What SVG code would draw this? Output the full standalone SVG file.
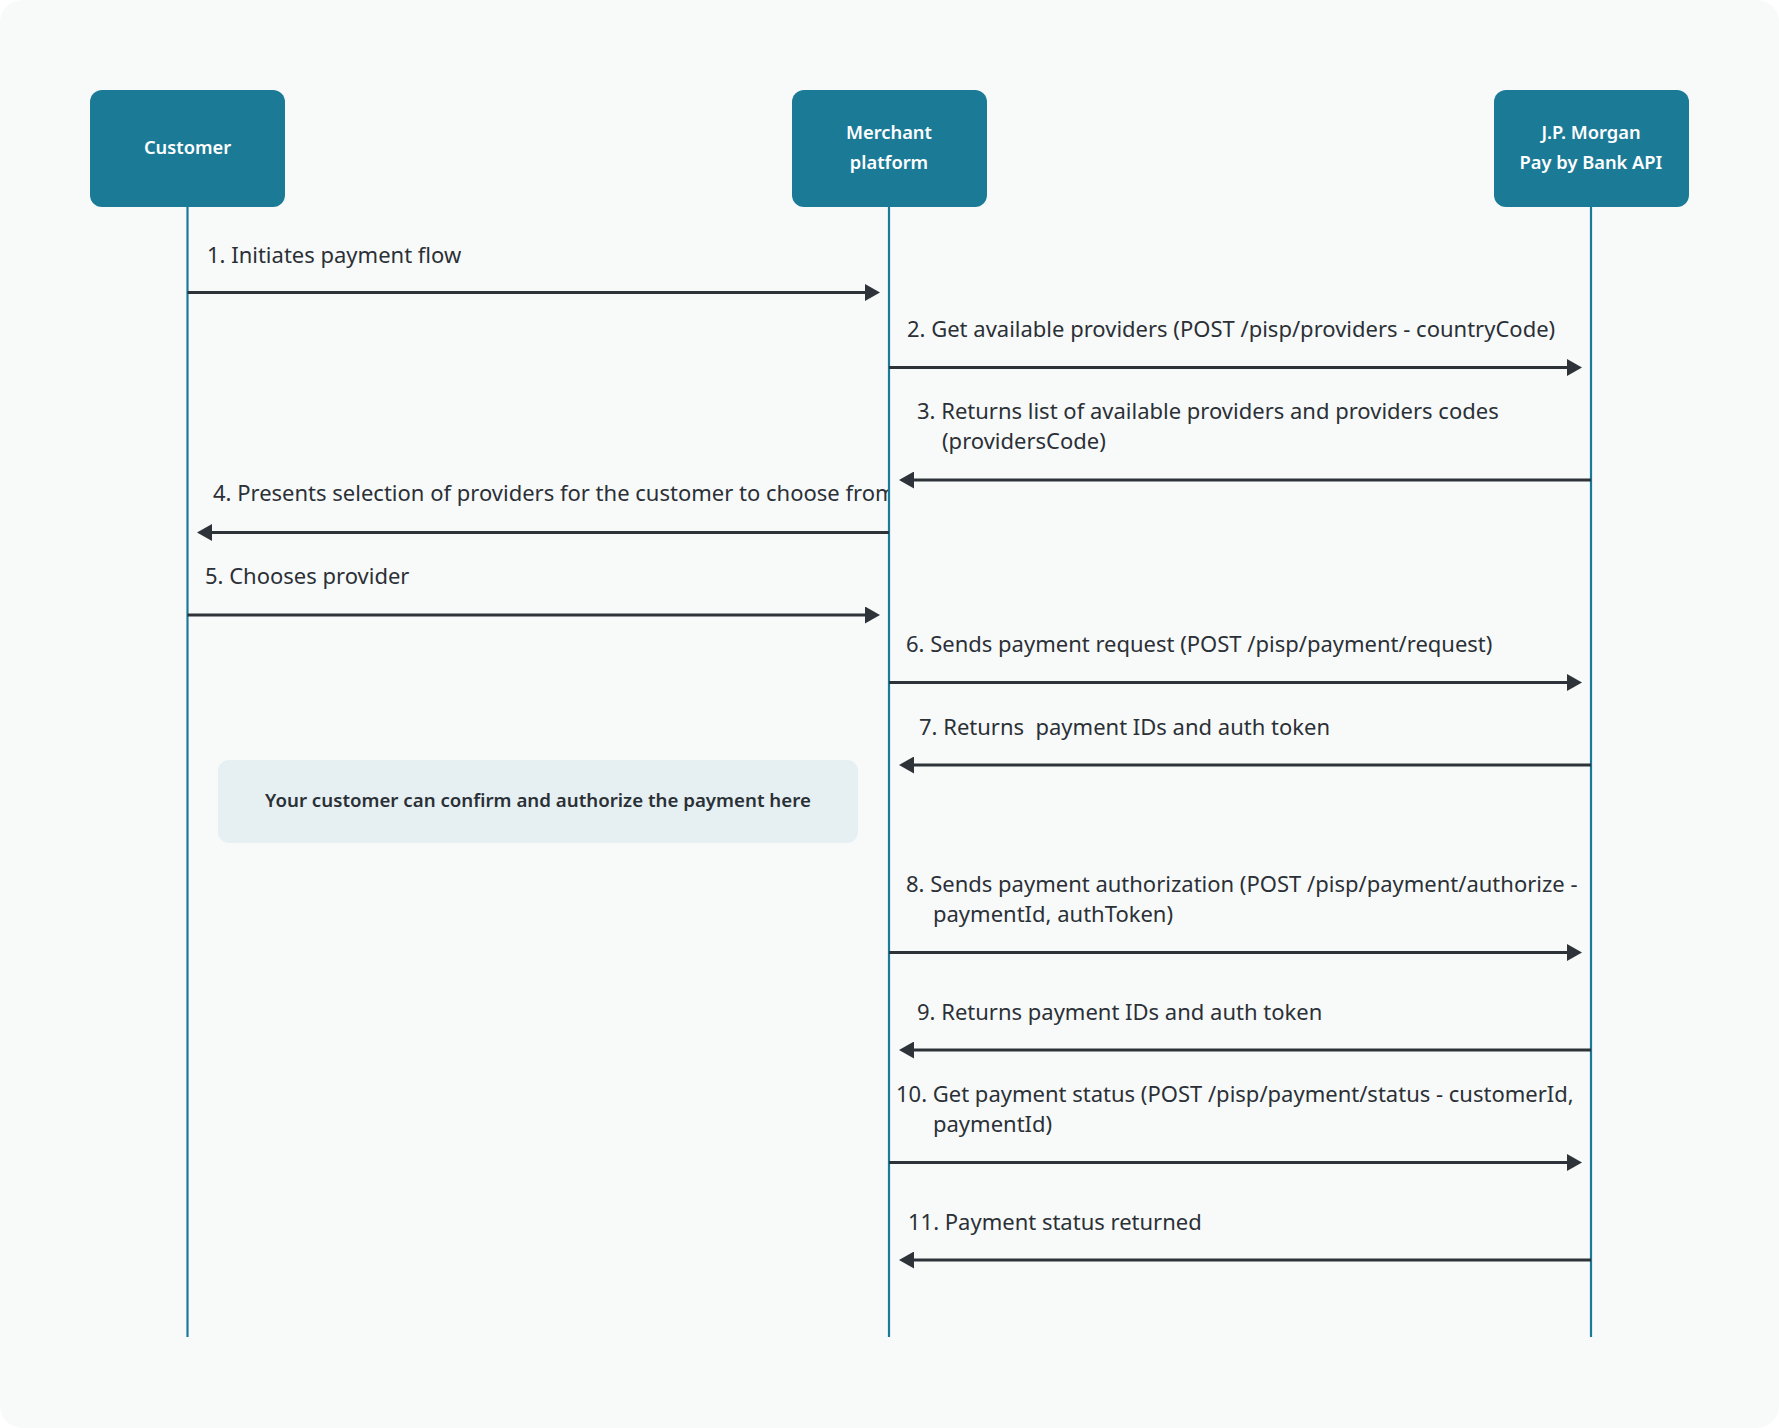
<svg xmlns="http://www.w3.org/2000/svg" width="1779" height="1428" viewBox="0 0 1779 1428">
<style>
.bg{fill:#f8fafa}
.actor{fill:#1b7b97}
.actor-t{font-family:"Noto Sans","Liberation Sans",sans-serif;font-size:18.3px;font-weight:600;fill:#ffffff;text-anchor:middle}
.life{stroke:#1b7b97;stroke-width:2.2;fill:none}
.msg{stroke:#2e3339;stroke-width:3;fill:none;marker-end:url(#ah)}
.lbl{font-family:"Noto Sans","Liberation Sans",sans-serif;font-size:22px;fill:#2b3036}
.note{fill:#e6f0f3}
.note-t{font-family:"Noto Sans","Liberation Sans",sans-serif;font-size:18.7px;font-weight:600;fill:#2b3036;text-anchor:middle}
</style>
<defs>
<marker id="ah" markerUnits="userSpaceOnUse" viewBox="0 0 15 17" markerWidth="15" markerHeight="17" refX="2" refY="8.5" orient="auto">
<path d="M0,0 L15,8.5 L0,17 Z" fill="#2e3339"/>
</marker>
<clipPath id="clipL"><rect x="180" y="470" width="708" height="50"/></clipPath>
</defs>
<rect width="1779" height="1428" fill="#ffffff"/>
<rect class="bg" x="0" y="0" width="1779" height="1428" rx="22"/>

<g id="lifelines">
<line class="life" x1="187.5" y1="206" x2="187.5" y2="1337"/>
<line class="life" x1="889" y1="206" x2="889" y2="1337"/>
<line class="life" x1="1591" y1="206" x2="1591" y2="1337"/>
</g>

<g id="customer">
<rect class="actor" x="90" y="90" width="195" height="117" rx="12"/>
<text class="actor-t" x="187.5" y="154">Customer</text>
</g>
<g id="merchant">
<rect class="actor" x="792" y="90" width="195" height="117" rx="12"/>
<text class="actor-t" x="889" y="139">Merchant</text>
<text class="actor-t" x="889" y="169">platform</text>
</g>
<g id="jpm">
<rect class="actor" x="1494" y="90" width="195" height="117" rx="12"/>
<text class="actor-t" x="1591" y="139">J.P. Morgan</text>
<text class="actor-t" x="1591" y="169">Pay by Bank API</text>
</g>

<g id="note">
<rect class="note" x="218" y="760" width="640" height="83" rx="11"/>
<text class="note-t" x="538" y="807">Your customer can confirm and authorize the payment here</text>
</g>

<g id="connectors">
<path class="msg" d="M187.5,292.5 H867"/>
<path class="msg" d="M889,367.5 H1569"/>
<path class="msg" d="M1591,480 H912"/>
<path class="msg" d="M889,532.5 H210"/>
<path class="msg" d="M187.5,615 H867"/>
<path class="msg" d="M889,682.5 H1569"/>
<path class="msg" d="M1591,765 H912"/>
<path class="msg" d="M889,952.5 H1569"/>
<path class="msg" d="M1591,1050 H912"/>
<path class="msg" d="M889,1162.5 H1569"/>
<path class="msg" d="M1591,1260 H912"/>
</g>

<g id="labels">
<text class="lbl" x="207" y="263">1. Initiates payment flow</text>
<text class="lbl" x="907" y="337">2. Get available providers (POST /pisp/providers - countryCode)</text>
<text class="lbl" x="917" y="419">3. Returns list of available providers and providers codes</text>
<text class="lbl" x="942" y="449">(providersCode)</text>
<text class="lbl" x="213" y="501" clip-path="url(#clipL)">4. Presents selection of providers for the customer to choose from</text>
<text class="lbl" x="205" y="584">5. Chooses provider</text>
<text class="lbl" x="906" y="652">6. Sends payment request (POST /pisp/payment/request)</text>
<text class="lbl" x="919" y="735" xml:space="preserve">7. Returns  payment IDs and auth token</text>
<text class="lbl" x="906" y="892">8. Sends payment authorization (POST /pisp/payment/authorize -</text>
<text class="lbl" x="933" y="922">paymentId, authToken)</text>
<text class="lbl" x="917" y="1020">9. Returns payment IDs and auth token</text>
<text class="lbl" x="896" y="1102">10. Get payment status (POST /pisp/payment/status - customerId,</text>
<text class="lbl" x="933" y="1132">paymentId)</text>
<text class="lbl" x="908" y="1230">11. Payment status returned</text>
</g>
</svg>
